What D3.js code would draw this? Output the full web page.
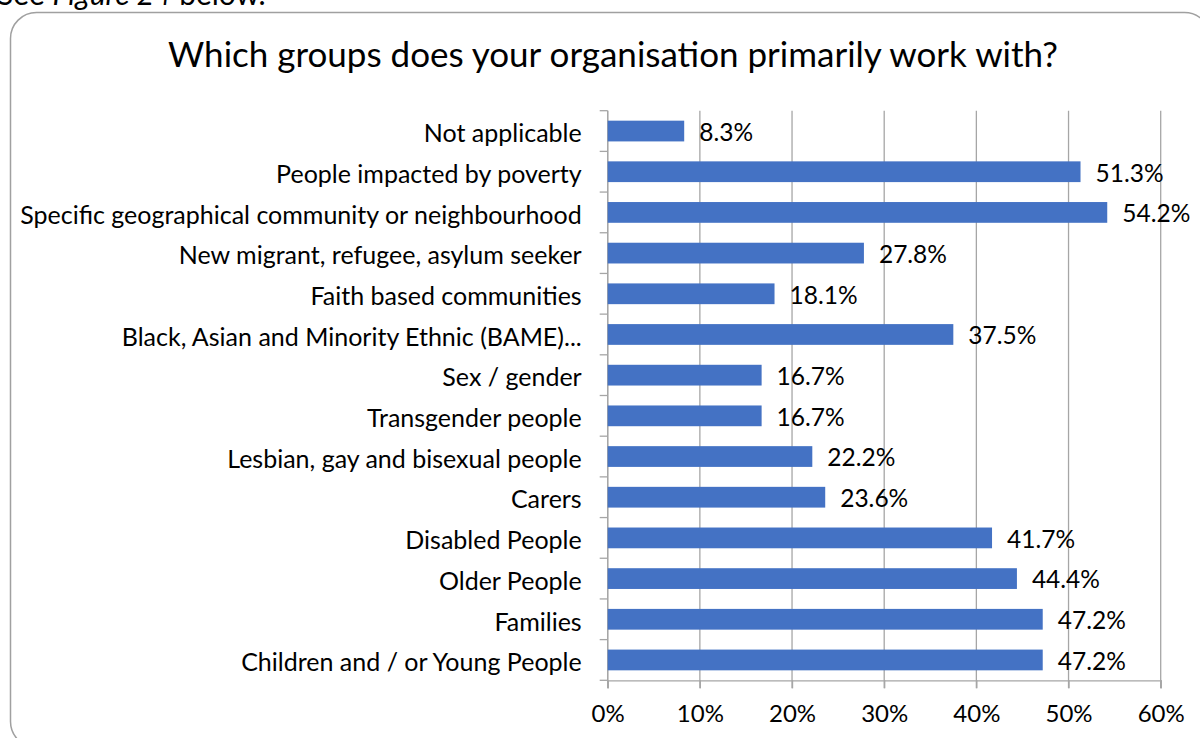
<!DOCTYPE html>
<html>
<head>
<meta charset="utf-8">
<script src="https://cdn.jsdelivr.net/npm/d3@7"></script>
<style>
  html, body { margin: 0; padding: 0; background: #fff; }
  svg { display: block; font-family: Lato, "Open Sans", sans-serif; }
</style>
</head>
<body>
<svg id="chart" width="1200" height="738"></svg>
<script>
// Survey categories, top to bottom
const categories = [
  "Not applicable",
  "People impacted by poverty",
  "Specific geographical community or neighbourhood",
  "New migrant, refugee, asylum seeker",
  "Faith based communities",
  "Black, Asian and Minority Ethnic (BAME)...",
  "Sex / gender",
  "Transgender people",
  "Lesbian, gay and bisexual people",
  "Carers",
  "Disabled People ",
  "Older People",
  "Families",
  "Children and / or Young People"
];
// Share of respondents (%)
const values = [8.3, 51.3, 54.2, 27.8, 18.1, 37.5, 16.7, 16.7, 22.2, 23.6, 41.7, 44.4, 47.2, 47.2];
const xTicks = [0, 10, 20, 30, 40, 50, 60];
const title = "Which groups does your organisation primarily work with?";

const svg = d3.select("#chart");
const W = 1200, H = 738;
const margin = { left: 607.7, right: W - 1160.7, top: 110.7, bottom: H - 680.3 };

// Lead-in sentence above the chart frame (runs off the top edge)
const lead = svg.append("text")
  .attr("x", -3).attr("y", 5)
  .attr("font-size", 30).attr("fill", "#000");
lead.append("tspan").text("See ");
lead.append("tspan").attr("font-style", "italic").text("Figure 24");
lead.append("tspan").text(" below.");

// Chart frame
svg.append("rect")
  .attr("x", 10.5).attr("y", 12.5)
  .attr("width", 1200).attr("height", 735)
  .attr("rx", 26).attr("ry", 26)
  .attr("fill", "#fff")
  .attr("stroke", "#a0a0a0").attr("stroke-width", 1.5);

// Title
svg.append("text")
  .attr("x", 613).attr("y", 67)
  .attr("text-anchor", "middle")
  .attr("font-size", 35)
  .attr("fill", "#000")
  .text(title);

const x = d3.scaleLinear().domain([0, 60]).range([margin.left, W - margin.right]);
const y = d3.scaleBand().domain(categories).range([margin.top, H - margin.bottom])
  .paddingInner(0.49).paddingOuter(0.245);

const gridColor = "#a6a6a6";

// Vertical gridlines
svg.append("g")
  .selectAll("line")
  .data(xTicks)
  .join("line")
  .attr("x1", d => x(d)).attr("x2", d => x(d))
  .attr("y1", margin.top).attr("y2", H - margin.bottom + 8)
  .attr("stroke", gridColor).attr("stroke-width", 1.3);

// Bottom axis with percent labels
const xAxis = svg.append("g")
  .attr("transform", `translate(0,${H - margin.bottom})`)
  .call(d3.axisBottom(x).tickValues(xTicks).tickFormat(d => d + "%").tickSize(8).tickPadding(17));
xAxis.select(".domain").attr("stroke", gridColor).attr("stroke-width", 1.3);
xAxis.selectAll(".tick line").attr("stroke", gridColor).attr("stroke-width", 1.3);
xAxis.selectAll(".tick text").attr("font-size", 24).attr("fill", "#000")
  .attr("font-family", "Lato, 'Open Sans', sans-serif");

// Left category axis with ticks between bands
const yAxisG = svg.append("g");
yAxisG.append("line")
  .attr("x1", margin.left).attr("x2", margin.left)
  .attr("y1", margin.top).attr("y2", H - margin.bottom)
  .attr("stroke", gridColor).attr("stroke-width", 1.3);
const boundaries = categories.map(c => y(c) - y.step() * y.paddingInner() / 2)
  .concat([H - margin.bottom]);
yAxisG.selectAll("line.tk")
  .data(boundaries)
  .join("line").attr("class", "tk")
  .attr("x1", margin.left - 8).attr("x2", margin.left)
  .attr("y1", d => d).attr("y2", d => d)
  .attr("stroke", gridColor).attr("stroke-width", 1.3);

yAxisG.selectAll("text.cat")
  .data(categories)
  .join("text").attr("class", "cat")
  .attr("x", margin.left - 26)
  .attr("y", d => y(d) + y.bandwidth() / 2)
  .attr("dy", "0.45em")
  .attr("text-anchor", "end")
  .attr("font-size", 25)
  .attr("fill", "#000")
  .text(d => d);

// Bars
svg.append("g")
  .selectAll("rect")
  .data(values)
  .join("rect")
  .attr("x", x(0))
  .attr("y", (d, i) => y(categories[i]))
  .attr("width", d => x(d) - x(0))
  .attr("height", y.bandwidth())
  .attr("fill", "#4472C4");

// Value labels
svg.append("g")
  .selectAll("text")
  .data(values)
  .join("text")
  .attr("x", d => x(d) + 15)
  .attr("y", (d, i) => y(categories[i]) + y.bandwidth() / 2)
  .attr("dy", "0.4em")
  .attr("font-size", 24.5)
  .attr("fill", "#000")
  .text(d => d.toFixed(1) + "%");
</script>
</body>
</html>
